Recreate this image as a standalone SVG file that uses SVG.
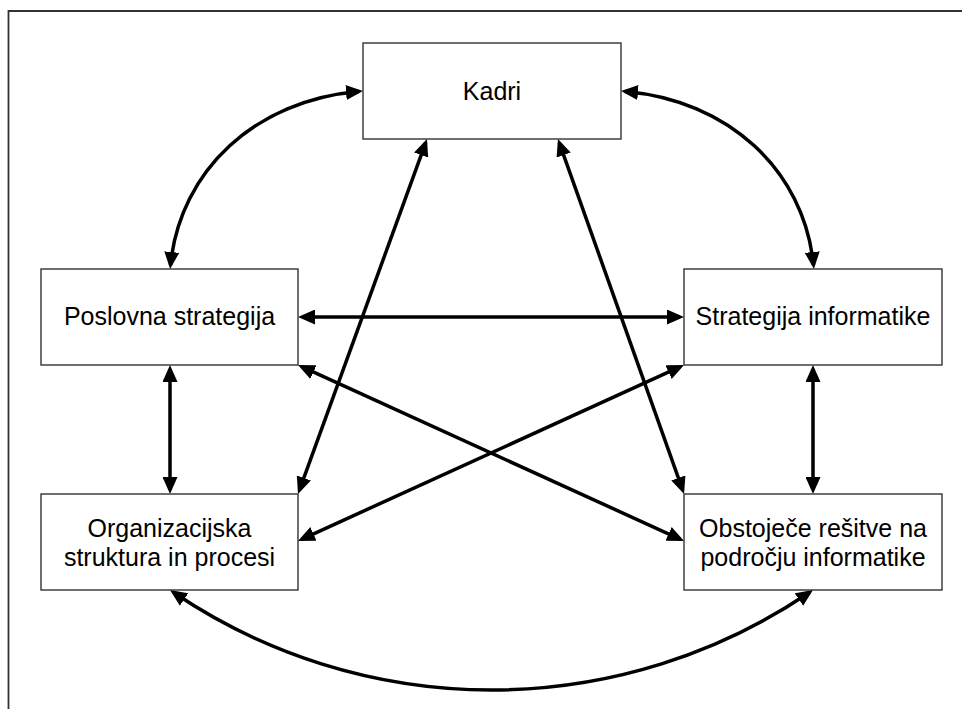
<svg xmlns="http://www.w3.org/2000/svg" width="962" height="709" viewBox="0 0 962 709">
  <style>
    .box { fill: #ffffff; stroke: #333333; stroke-width: 1.4; }
    .label { font-family: "Liberation Sans", Arial, sans-serif; font-size: 25px; fill: #000000; text-anchor: middle; }
    .link { fill: none; stroke: #000000; stroke-width: 3.5; marker-start: url(#head); marker-end: url(#head); }
    .frame { fill: none; stroke: #333333; stroke-width: 1.8; }
  </style>
  <defs>
    <marker id="head" markerUnits="userSpaceOnUse" markerWidth="17" markerHeight="15" refX="13" refY="7.5" orient="auto-start-reverse">
      <path d="M0,0 L17,7.5 L0,15 Z" fill="#000000"/>
    </marker>
  </defs>

  <rect width="962" height="709" fill="#ffffff"/>
  <!-- outer frame: top and left edges only -->
  <path class="frame" d="M8.5,709 L8.5,11 L962,11"/>

  <g id="connectors">
    <!-- curved links from Kadri to the two strategy boxes -->
    <path class="link" d="M359,91.4 C256,100 180,170 170.5,265"/>
    <path class="link" d="M625,91.4 C728,100 804,170 813.5,265"/>
    <!-- strategy to strategy -->
    <path class="link" d="M302,317 L680,317"/>
    <!-- vertical links -->
    <path class="link" d="M170,369 L170,490"/>
    <path class="link" d="M813,369 L813,490"/>
    <!-- Kadri to bottom boxes -->
    <path class="link" d="M425.6,142.8 L299.4,490.2"/>
    <path class="link" d="M559.3,142.8 L682.7,490.2"/>
    <!-- crossing diagonals -->
    <path class="link" d="M301.6,366.7 L680.4,539.3"/>
    <path class="link" d="M680.4,366.7 L301.6,539.3"/>
    <!-- bottom arc -->
    <path class="link" d="M173.3,592.3 A567,567 0 0 0 809.7,592.3"/>
  </g>

  <g id="kadri">
    <rect class="box" x="363" y="43" width="258" height="96"/>
    <text class="label" x="492" y="100">Kadri</text>
  </g>
  <g id="poslovna-strategija">
    <rect class="box" x="41" y="269" width="257" height="96"/>
    <text class="label" x="169.5" y="325">Poslovna strategija</text>
  </g>
  <g id="strategija-informatike">
    <rect class="box" x="684" y="269" width="258" height="96"/>
    <text class="label" x="813" y="325">Strategija informatike</text>
  </g>
  <g id="organizacijska-struktura">
    <rect class="box" x="41" y="494" width="257" height="96"/>
    <text class="label" x="169.5" y="537">Organizacijska</text>
    <text class="label" x="169.5" y="566">struktura in procesi</text>
  </g>
  <g id="obstojece-resitve">
    <rect class="box" x="684" y="494" width="258" height="96"/>
    <text class="label" x="813" y="537">Obstoječe rešitve na</text>
    <text class="label" x="813" y="566">področju informatike</text>
  </g>
</svg>
